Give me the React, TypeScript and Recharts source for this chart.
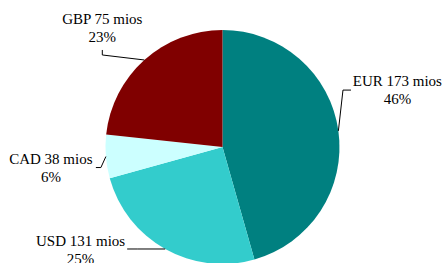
import * as React from "react";
import { PieChart, Pie, Cell } from "recharts";

// currency exposure, clockwise from 12 o'clock
const currencies = ["EUR", "USD", "CAD", "GBP"];
const amounts = [173, 131, 38, 75]; // mios
const shares = [45.6, 25.1, 6.0, 23.3]; // slice sizes
const colors = ["#008080", "#33CCCC", "#CCFFFF", "#800000"];

const data = currencies.map((c, i) => ({
  name: c,
  amount: amounts[i],
  value: shares[i],
}));
const total = shares.reduce((a, b) => a + b, 0);

const FONT = "'Liberation Serif', 'Times New Roman', serif";

// label placement relative to the slice's outer edge point (excel-ish leader lines)
type LabelLayout = { tx: number; ty: number; elbow: [number, number]; end: [number, number] };
const labelLayout: LabelLayout[] = [
  { tx: 59, ty: -45, elbow: [4.6, -40.8], end: [12.6, -40.8] },
  { tx: -84.6, ty: -3, elbow: [-28, 0], end: [-38, 0] },
  { tx: -55, ty: 7.6, elbow: [-5, 11], end: [-10, 11] },
  { tx: -42, ty: -35.6, elbow: [-42, -5], end: [-42, -10] },
];

const RAD = Math.PI / 180;

function renderLabel(props: any) {
  const { cx, cy, midAngle, outerRadius, index } = props;
  const ex = cx + outerRadius * Math.cos(-midAngle * RAD);
  const ey = cy + outerRadius * Math.sin(-midAngle * RAD);
  const l = labelLayout[index];
  const pct = Math.round((shares[index] / total) * 100);
  const pts = `${ex},${ey} ${ex + l.elbow[0]},${ey + l.elbow[1]} ${ex + l.end[0]},${ey + l.end[1]}`;
  return (
    <g key={`lbl-${index}`}>
      <polyline points={pts} fill="none" stroke="#000" strokeWidth={1} />
      <text
        x={ex + l.tx}
        y={ey + l.ty}
        textAnchor="middle"
        fill="#000"
        fontFamily={FONT}
        fontSize={15}
      >
        <tspan x={ex + l.tx} fontFamily={FONT}>{`${currencies[index]} ${amounts[index]} mios`}</tspan>
        <tspan x={ex + l.tx} dy={18} fontFamily={FONT}>{`${pct}%`}</tspan>
      </text>
    </g>
  );
}

export default function App() {
  return (
    <div
      style={{
        position: "absolute",
        left: 0,
        top: 0,
        width: 443,
        height: 263,
        background: "#fff",
        fontFamily: FONT,
      }}
    >
      <PieChart width={443} height={263} margin={{ top: 0, right: 0, bottom: 0, left: 0 }} style={{ fontFamily: FONT }}>
        <Pie
          data={data}
          dataKey="value"
          nameKey="name"
          cx={222.5}
          cy={147}
          outerRadius={117}
          startAngle={90}
          endAngle={-270}
          stroke="none"
          label={renderLabel}
          labelLine={false}
          isAnimationActive={false}
        >
          {data.map((d, i) => (
            <Cell key={`cell-${d.name}`} fill={colors[i]} stroke="none" />
          ))}
        </Pie>
      </PieChart>
    </div>
  );
}
